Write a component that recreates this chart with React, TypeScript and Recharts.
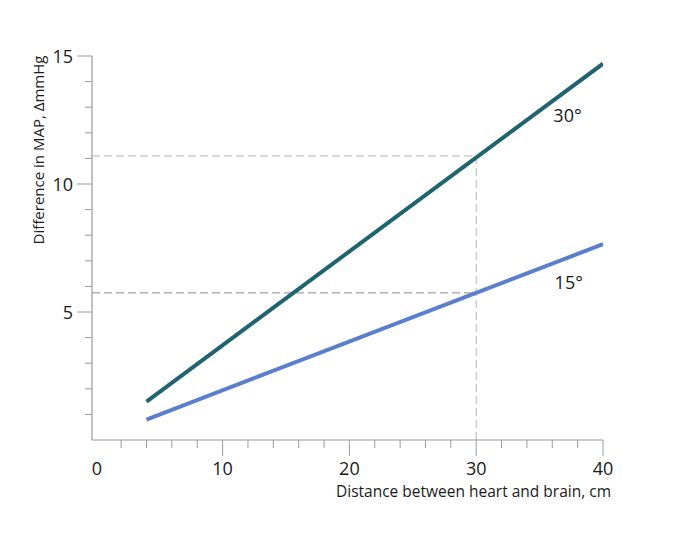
import {
  LineChart,
  Line,
  XAxis,
  YAxis,
  ReferenceLine,
  ReferenceDot,
} from 'recharts';

// distance between heart and brain (cm)
const distance = [4, 40];
// difference in MAP (mmHg) for each tilt angle
const diff30 = [1.5, 14.7];
const diff15 = [0.8, 7.65];

const xTicks = [0, 2, 4, 6, 8, 10, 12, 14, 16, 18, 20, 22, 24, 26, 28, 30, 32, 34, 36, 38, 40];
const yTicks = [1, 2, 3, 4, 5, 6, 7, 8, 9, 10, 11, 12, 13, 14, 15];

// dashed guide lines read at 30 cm
const guideX = 30;
const guide30 = 11.1;
const guide15 = 5.75;

const data = distance.map((d, i) => ({ d, a30: diff30[i], a15: diff15[i] }));

const FONT = '"Open Sans", sans-serif';
const AXIS = '#9a9a9a';
const INK = '#1a1a1a';

function XTick(props: any) {
  const { x, y, payload } = props;
  const v = payload.value;
  const major = v % 10 === 0;
  return (
    <g>
      {v !== 0 && (
        <line x1={x} x2={x} y1={y} y2={y + (major ? 16 : 8)} stroke={AXIS} strokeWidth={1} />
      )}
      {major && (
        <text x={x + (v === 0 ? 1 : 0)} y={y + 35} textAnchor="middle" fontSize={18} fill={INK} fontFamily={FONT}>
          {v}
        </text>
      )}
    </g>
  );
}

function YTick(props: any) {
  const { x, y, payload } = props;
  const v = payload.value;
  const major = v % 5 === 0;
  return (
    <g>
      <line x1={x} x2={x - (major ? 15 : 7)} y1={y} y2={y} stroke={AXIS} strokeWidth={1} />
      {major && (
        <text x={x - 19} y={y + 6.5} textAnchor="end" fontSize={18} fill={INK} fontFamily={FONT}>
          {v}
        </text>
      )}
    </g>
  );
}

export default function App() {
  return (
    <div style={{ position: 'absolute', left: 0, top: 0, background: '#fff' }}>
      <LineChart
        width={685}
        height={549}
        data={data}
        margin={{ top: 56, right: 82, bottom: 49, left: 32 }}
      >
        <XAxis
          type="number"
          dataKey="d"
          domain={[-0.3, 40]}
          ticks={xTicks}
          interval={0}
          height={60}
          tickSize={0}
          tickMargin={0}
          tickLine={false}
          axisLine={{ stroke: AXIS, strokeWidth: 1.2 }}
          tick={<XTick />}
          allowDataOverflow
        />
        <YAxis
          type="number"
          domain={[0, 15]}
          ticks={yTicks}
          interval={0}
          width={60}
          tickSize={0}
          tickMargin={0}
          tickLine={false}
          axisLine={{ stroke: AXIS, strokeWidth: 1.2 }}
          tick={<YTick />}
        />
        <ReferenceLine
          segment={[{ x: -0.3, y: guide30 }, { x: guideX, y: guide30 }]}
          stroke="#c4c4c4"
          strokeWidth={1.3}
          strokeDasharray="8 4"
        />
        <ReferenceLine
          segment={[{ x: -0.3, y: guide15 }, { x: guideX, y: guide15 }]}
          stroke="#a3a3a3"
          strokeWidth={1.3}
          strokeDasharray="8 4"
        />
        <ReferenceLine
          segment={[{ x: guideX, y: 0 }, { x: guideX, y: guide30 }]}
          stroke="#c4c4c4"
          strokeWidth={1.3}
          strokeDasharray="8 4"
        />
        <Line
          dataKey="a30"
          stroke="#1f6470"
          strokeWidth={4}
          dot={false}
          isAnimationActive={false}
        />
        <Line
          dataKey="a15"
          stroke="#5b7fcc"
          strokeWidth={4}
          dot={false}
          isAnimationActive={false}
        />
        <ReferenceDot
          x={37.2}
          y={12.66}
          r={0}
          fill="none"
          stroke="none"
          label={{ value: '30°', position: 'center', fontSize: 18, fill: INK, fontFamily: FONT }}
        />
        <ReferenceDot
          x={37.3}
          y={6.13}
          r={0}
          fill="none"
          stroke="none"
          label={{ value: '15°', position: 'center', fontSize: 18, fill: INK, fontFamily: FONT }}
        />
        <text x={611} y={497} textAnchor="end" fontSize={15.5} fill={INK} fontFamily={FONT}>
          Distance between heart and brain, cm
        </text>
        <text
          x={44}
          y={150}
          textAnchor="middle"
          fontSize={15}
          fill={INK}
          fontFamily={FONT}
          transform="rotate(-90 44 150)"
        >
          Difference in MAP, ΔmmHg
        </text>
      </LineChart>
    </div>
  );
}
